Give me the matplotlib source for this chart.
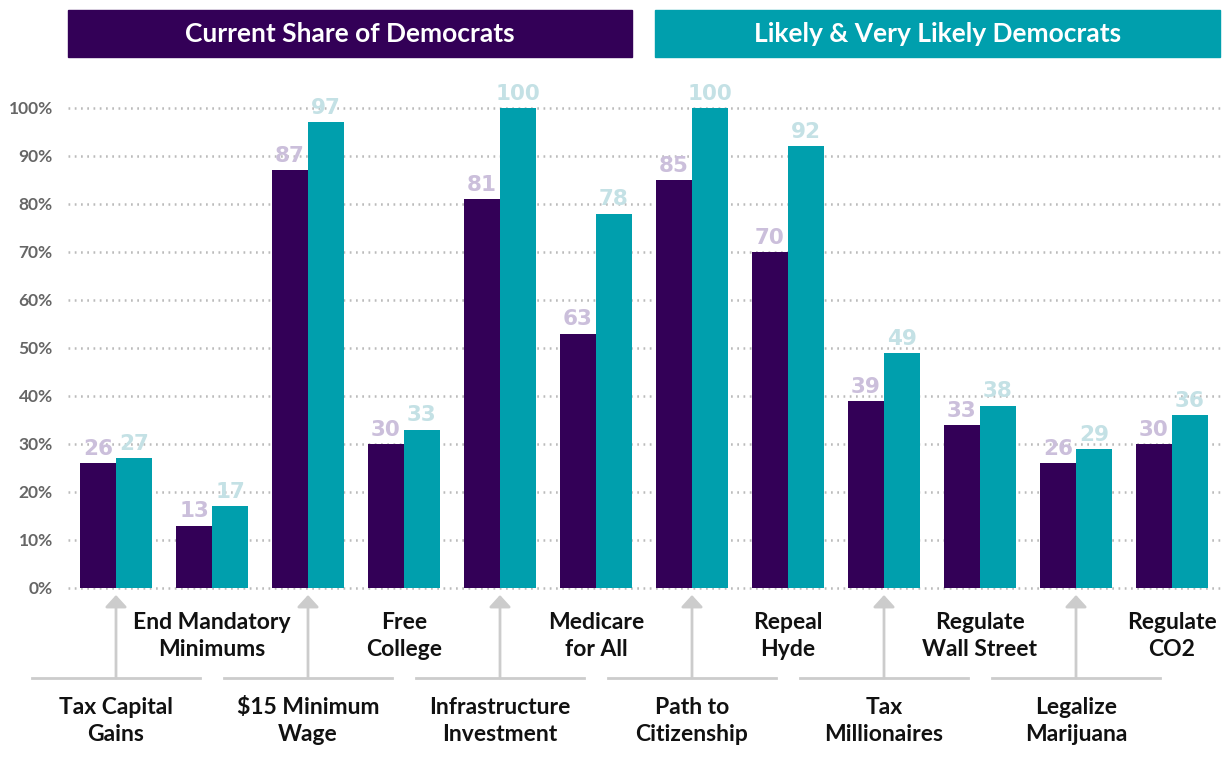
import matplotlib
matplotlib.use('Agg')
import matplotlib.pyplot as plt
from matplotlib.patches import Rectangle
import numpy as np

plt.rcParams['font.family'] = ['Lato', 'DejaVu Sans']

categories = ['Tax Capital\nGains', 'End Mandatory\nMinimums', '$15 Minimum\nWage', 'Free\nCollege',
              'Infrastructure\nInvestment', 'Medicare\nfor All', 'Path to\nCitizenship', 'Repeal\nHyde',
              'Tax\nMillionaires', 'Regulate\nWall Street', 'Legalize\nMarijuana', 'Regulate\nCO2']
# bar heights as drawn in the picture
current = [26, 13, 87, 30, 81, 53, 85, 70, 39, 34, 26, 30]
likely = [27, 17, 97, 33, 100, 78, 100, 92, 49, 38, 29, 36]
# value labels as printed above the bars
current_labels = ['26', '13', '87', '30', '81', '63', '85', '70', '39', '33', '26', '30']
likely_labels = ['27', '17', '97', '33', '100', '78', '100', '92', '49', '38', '29', '36']
yticks = [0, 10, 20, 30, 40, 50, 60, 70, 80, 90, 100]
headers = ['Current Share of Democrats', 'Likely & Very Likely Democrats']

purple = '#330057'
teal = '#009fad'
purple_lbl = '#cbbfdb'
teal_lbl = '#c4e1e5'
grey = '#cccccc'

W, H = 1225, 766
fig = plt.figure(figsize=(W / 100, H / 100), dpi=100)
ax = fig.add_axes([68 / W, (H - 588) / H, 1152 / W, 480 / H])

ind = np.arange(len(categories))
bw = 0.375
ax.bar(ind - bw / 2, current, width=bw, color=purple, zorder=3)
ax.bar(ind + bw / 2, likely, width=bw, color=teal, zorder=3)

for i in ind:
    ax.annotate(current_labels[i], (i - bw / 2, current[i]), xytext=(0, 3), textcoords='offset points',
                ha='center', va='bottom', fontsize=15.5, fontweight='bold', family='DejaVu Sans',
                color=purple_lbl, zorder=4, annotation_clip=False)
    ax.annotate(likely_labels[i], (i + bw / 2, likely[i]), xytext=(0, 3), textcoords='offset points',
                ha='center', va='bottom', fontsize=15.5, fontweight='bold', family='DejaVu Sans',
                color=teal_lbl, zorder=4, annotation_clip=False)

ax.set_xlim(-0.5, 11.5)
ax.set_ylim(0, 100)
for y in yticks:
    ax.axhline(y, color='#bbbbbb', lw=1.8, linestyle=(0, (0.7, 1.8)), zorder=1, clip_on=False)
ax.set_yticks(yticks)
ax.set_yticklabels([f'{y}%' for y in yticks], fontsize=12.5, fontweight='bold', color='#666666')
ax.tick_params(axis='y', length=0, pad=11)
ax.set_xticks([])
for s in ax.spines.values():
    s.set_visible(False)

# category labels, staggered on two rows
px = 4.8  # pixels per percentage point
for i in ind:
    if i % 2 == 0:
        ax.annotate('', xy=(i, -7 / px), xytext=(i, -90 / px),
                    arrowprops=dict(arrowstyle='-|>,head_length=0.6,head_width=0.55', color=grey,
                                    lw=2, mutation_scale=12, shrinkA=0, shrinkB=0),
                    annotation_clip=False)
        ax.plot([i - 0.875, i + 0.875], [-90 / px] * 2, color=grey, lw=2, clip_on=False)
        ax.text(i, -133 / px, categories[i], ha='center', va='center', fontsize=16.5,
                fontweight='bold', color='#111111', linespacing=1.3)
    else:
        ax.text(i, -48 / px, categories[i], ha='center', va='center', fontsize=16.5,
                fontweight='bold', color='#111111', linespacing=1.3)

# header boxes
for (x0, x1), txt, col in zip([(68, 632), (655, 1220)], headers, [purple, teal]):
    fig.patches.append(Rectangle((x0 / W, (H - 57) / H), (x1 - x0) / W, 47 / H,
                                 transform=fig.transFigure, color=col))
    fig.text((x0 + x1) / 2 / W, (H - 33.5) / H, txt, ha='center', va='center',
             fontsize=19, fontweight='bold', color='white')

fig.savefig('out.png', dpi=100)
